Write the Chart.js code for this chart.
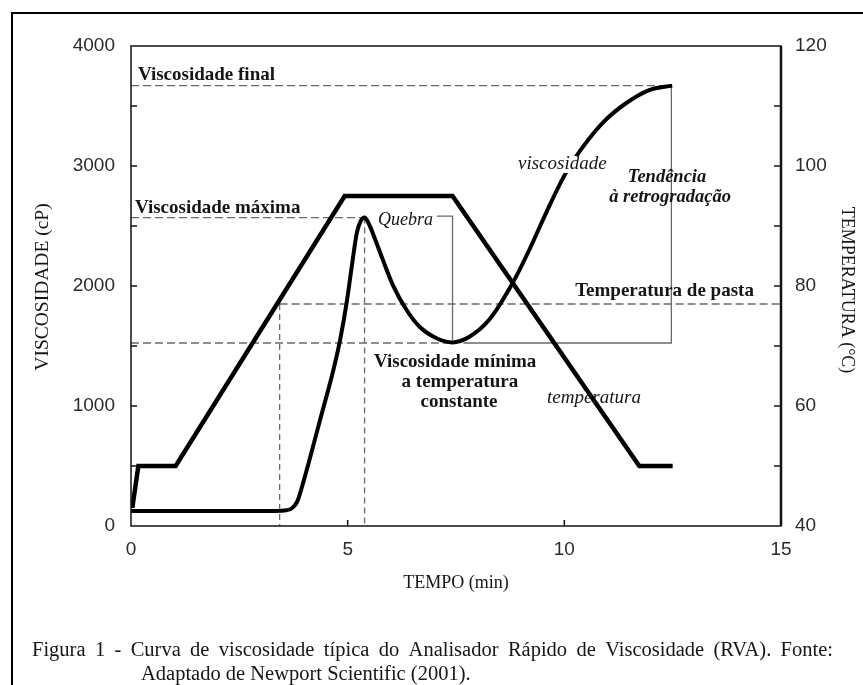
<!DOCTYPE html>
<html>
<head>
<meta charset="utf-8">
<script src="https://cdn.jsdelivr.net/npm/chart.js@4.4.1/dist/chart.umd.min.js"></script>
<style>
  body { margin: 0; background: #fff; }
  canvas { display: block; }
</style>
</head>
<body>
<canvas id="rvaChart" width="863" height="685"></canvas>
<script>
// curva de viscosidade: tempo (min) x viscosidade (cP)
const viscTime  = [0, 3.3, 3.6, 3.83, 3.98, 4.36, 4.67, 4.82, 4.98, 5.09, 5.21, 5.3, 5.39, 5.48, 5.58, 5.8, 6.04, 6.36, 6.66, 7.05, 7.42, 7.8, 8.27, 8.8, 9.19, 9.58, 10.0, 10.39, 10.88, 11.43, 11.96, 12.49];
const viscValue = [125, 125, 132, 200, 370, 880, 1300, 1540, 1870, 2150, 2440, 2540, 2570, 2525, 2440, 2230, 2010, 1800, 1660, 1565, 1530, 1575, 1720, 2020, 2300, 2610, 2920, 3140, 3358, 3525, 3633, 3670];

// perfil de temperatura: tempo (min) x temperatura (°C)
const tempTime  = [0.03, 0.17, 1.03, 4.93, 7.42, 11.73, 12.5];
const tempValue = [43, 50, 50, 95, 95, 50, 50];

// pontos característicos
const finalVisc = 3670;
const peakVisc = 2570;
const minVisc = 1525;
const pasteTemp = 77;
const peakTime = 5.39;
const minTime = 7.42;
const pasteTime = 3.43;
const endTime = 12.47;

const xRange = [0, 15];
const yRange = [0, 4000];
const y1Range = [40, 120];

function pts(xs, ys) {
    return xs.map(function(x, i) { return {x: x, y: ys[i]}; });
}

function refLine(points, axis, dash) {
    return {
        data: points,
        yAxisID: axis,
        borderColor: '#6a6a6a',
        borderWidth: 1.3,
        borderDash: dash,
        pointRadius: 0,
        showLine: true,
        fill: false,
        tension: 0
    };
}

const notes = [
    {text: 'Viscosidade final', t: 0.16, v: 3717, align: 'left', font: 'bold 19px "Liberation Serif"'},
    {text: 'Viscosidade máxima', t: 0.09, v: 2608, align: 'left', font: 'bold 19px "Liberation Serif"'},
    {text: 'Quebra', t: 5.7, v: 2508, align: 'left', font: 'italic 18px "Liberation Serif"'},
    {text: 'viscosidade', t: 8.93, v: 2975, align: 'left', font: 'italic 19px "Liberation Serif"', bg: true},
    {text: 'Tendência', t: 12.37, v: 2867, align: 'center', font: 'bold italic 18.5px "Liberation Serif"'},
    {text: 'à retrogradação', t: 12.44, v: 2700, align: 'center', font: 'bold italic 18.5px "Liberation Serif"'},
    {text: 'Temperatura de pasta', t: 10.25, v: 1917, align: 'left', font: 'bold 19px "Liberation Serif"'},
    {text: 'Viscosidade mínima', t: 7.48, v: 1325, align: 'center', font: 'bold 19px "Liberation Serif"'},
    {text: 'a temperatura', t: 7.59, v: 1158, align: 'center', font: 'bold 19px "Liberation Serif"'},
    {text: 'constante', t: 7.57, v: 992, align: 'center', font: 'bold 19px "Liberation Serif"'},
    {text: 'temperatura', t: 9.6, v: 1025, align: 'left', font: 'italic 19px "Liberation Serif"'}
];

const captionLine1 = 'Figura 1 - Curva de viscosidade típica do Analisador Rápido de Viscosidade (RVA). Fonte:';
const captionLine2 = 'Adaptado de Newport Scientific (2001).';

const extras = {
    id: 'extras',
    afterDatasetsDraw: function(chart) {
        const ctx = chart.ctx;
        const a = chart.chartArea;
        const sx = chart.scales.x, sy = chart.scales.y, sy1 = chart.scales.y1;
        ctx.save();

        // caixa do gráfico
        ctx.strokeStyle = '#111';
        ctx.lineWidth = 1.5;
        ctx.strokeRect(a.left, a.top, a.right - a.left, a.bottom - a.top);
        ctx.lineWidth = 2.5;
        ctx.beginPath();
        ctx.moveTo(a.right, a.top);
        ctx.lineTo(a.right, a.bottom);
        ctx.stroke();

        // marcas internas
        ctx.lineWidth = 1.5;
        ctx.beginPath();
        for (let v = yRange[0] + 500; v < yRange[1]; v += 500) {
            const py = sy.getPixelForValue(v);
            ctx.moveTo(a.left, py); ctx.lineTo(a.left + 6, py);
        }
        for (let v = y1Range[0] + 10; v < y1Range[1]; v += 10) {
            const py = sy1.getPixelForValue(v);
            ctx.moveTo(a.right, py); ctx.lineTo(a.right - 7, py);
        }
        for (let v = xRange[0] + 5; v < xRange[1]; v += 5) {
            const px = sx.getPixelForValue(v);
            ctx.moveTo(px, a.bottom); ctx.lineTo(px, a.bottom - 6);
        }
        ctx.stroke();

        // textos
        ctx.fillStyle = '#151515';
        ctx.textBaseline = 'alphabetic';
        notes.forEach(function(n) {
            const px = sx.getPixelForValue(n.t);
            const py = sy.getPixelForValue(n.v);
            ctx.font = n.font;
            ctx.textAlign = n.align;
            if (n.bg) {
                const w = ctx.measureText(n.text).width;
                const x0 = n.align === 'center' ? px - w / 2 : px;
                ctx.fillStyle = '#fff';
                ctx.fillRect(x0 - 2, py - 13, w + 4, 17);
                ctx.fillStyle = '#151515';
            }
            ctx.fillText(n.text, px, py);
        });
        ctx.restore();
    },
    afterDraw: function(chart) {
        const ctx = chart.ctx;
        ctx.save();
        ctx.fillStyle = '#151515';

        // títulos dos eixos
        ctx.textAlign = 'center';
        ctx.textBaseline = 'middle';
        ctx.font = '18px "Liberation Serif"';
        ctx.fillText('TEMPO (min)', 456, 583);
        ctx.save();
        ctx.translate(43, 287);
        ctx.rotate(-Math.PI / 2);
        ctx.font = '19.5px "Liberation Serif"';
        ctx.fillText('VISCOSIDADE (cP)', 0, 0);
        ctx.restore();
        ctx.save();
        ctx.translate(847, 290);
        ctx.rotate(Math.PI / 2);
        ctx.font = '18px "Liberation Serif"';
        ctx.fillText('TEMPERATURA (°C)', 0, 0);
        ctx.restore();

        // legenda da figura (justificada)
        ctx.font = '20.5px "Liberation Serif"';
        ctx.textAlign = 'left';
        ctx.textBaseline = 'alphabetic';
        const words = captionLine1.split(' ');
        const left = 32, right = 833;
        let total = 0;
        words.forEach(function(w) { total += ctx.measureText(w).width; });
        const gap = (right - left - total) / (words.length - 1);
        let x = left;
        words.forEach(function(w) {
            ctx.fillText(w, x, 656);
            x += ctx.measureText(w).width + gap;
        });
        ctx.fillText(captionLine2, 141, 680);

        // moldura da figura
        ctx.strokeStyle = '#000';
        ctx.lineWidth = 2;
        ctx.beginPath();
        ctx.moveTo(12, 700);
        ctx.lineTo(12, 13);
        ctx.lineTo(870, 13);
        ctx.stroke();
        ctx.restore();
    }
};

const context = document.getElementById('rvaChart');

const data = {
    datasets: [
        {
            data: pts(viscTime, viscValue),
            yAxisID: 'y',
            borderColor: '#000',
            borderWidth: 4,
            pointRadius: 0,
            showLine: true,
            fill: false,
            cubicInterpolationMode: 'monotone'
        },
        {
            data: pts(tempTime, tempValue),
            yAxisID: 'y1',
            borderColor: '#000',
            borderWidth: 4.5,
            pointRadius: 0,
            showLine: true,
            fill: false,
            tension: 0,
            borderJoinStyle: 'miter'
        },
        refLine([{x: 0, y: finalVisc}, {x: endTime, y: finalVisc}], 'y', [8, 4]),
        refLine([{x: 0, y: peakVisc}, {x: peakTime, y: peakVisc}], 'y', [8, 4]),
        refLine([{x: peakTime, y: peakVisc}, {x: peakTime, y: 0}], 'y', [6, 4]),
        refLine([{x: 0, y: minVisc}, {x: minTime, y: minVisc}], 'y', [8, 4]),
        refLine([{x: 7.67, y: minVisc}, {x: endTime, y: minVisc}, {x: endTime, y: finalVisc}], 'y', []),
        refLine([{x: pasteTime, y: pasteTemp}, {x: 15, y: pasteTemp}], 'y1', [8, 4]),
        refLine([{x: pasteTime, y: pasteTemp}, {x: pasteTime, y: 40}], 'y1', [6, 4]),
        refLine([{x: 7.06, y: 2583}, {x: minTime, y: 2583}, {x: minTime, y: 1550}], 'y', [])
    ]
};

const tickFont = {family: '"Liberation Sans"', size: 19};
const plainLabel = function(value) { return String(value); };

const config = {
    type: 'scatter',
    data: data,
    options: {
        responsive: false,
        animation: false,
        layout: {padding: {top: 46, left: 0, right: 0, bottom: 0}},
        plugins: {legend: {display: false}, tooltip: {enabled: false}},
        scales: {
            x: {
                type: 'linear',
                min: xRange[0], max: xRange[1],
                grid: {display: false, drawTicks: false},
                border: {display: false},
                ticks: {stepSize: 5, padding: 12, color: '#2a2a2a', font: tickFont, callback: plainLabel},
                afterFit: function(s) { s.height = 159; }
            },
            y: {
                type: 'linear',
                position: 'left',
                min: yRange[0], max: yRange[1],
                grid: {display: false, drawTicks: false},
                border: {display: false},
                ticks: {stepSize: 1000, padding: 16, color: '#2a2a2a', font: tickFont, callback: plainLabel},
                afterFit: function(s) { s.width = 131; }
            },
            y1: {
                type: 'linear',
                position: 'right',
                min: y1Range[0], max: y1Range[1],
                grid: {display: false, drawTicks: false},
                border: {display: false},
                ticks: {stepSize: 20, padding: 14, color: '#2a2a2a', font: tickFont, callback: plainLabel},
                afterFit: function(s) { s.width = 82; }
            }
        }
    },
    plugins: [extras]
};

var rvaChart = new Chart(context, config);
</script>
</body>
</html>
